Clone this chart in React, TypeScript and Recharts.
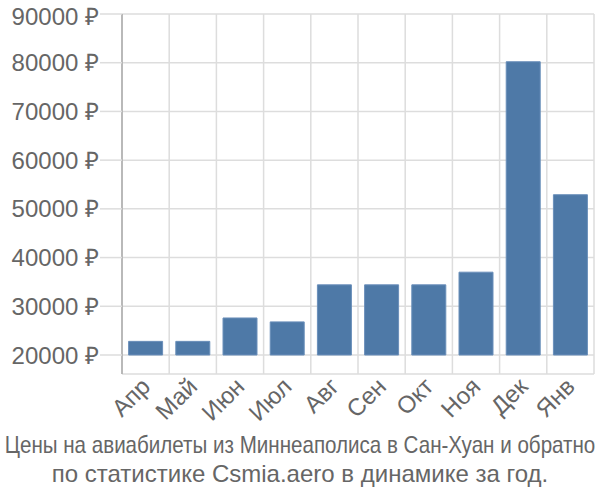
import React from "react";
import { BarChart, Bar, XAxis, YAxis, CartesianGrid } from "recharts";

const months = ["Апр", "Май", "Июн", "Июл", "Авг", "Сен", "Окт", "Ноя", "Дек", "Янв"];
const prices = [22800, 22800, 27600, 26800, 34400, 34400, 34400, 37000, 80200, 52900];
const baseValue = 20000;
const yTicks = [20000, 30000, 40000, 50000, 60000, 70000, 80000, 90000];
const titleLine1 = "Цены на авиабилеты из Миннеаполиса в Сан-Хуан и обратно";
const titleLine2 = "по статистике Csmia.aero в динамике за год.";

const data = months.map((m, i) => ({ month: m, range: [baseValue, prices[i]] }));

const FONT = "'Liberation Sans', Arial, sans-serif";

const XTick = (props: any) => {
  const { x, y, payload } = props;
  const tx = x + 6;
  const ty = y + 6;
  return (
    <text
      x={tx}
      y={ty}
      transform={`rotate(-45, ${tx}, ${ty})`}
      textAnchor="end"
      fontSize={24}
      fontFamily={FONT}
      fill="#666"
    >
      {payload.value}
    </text>
  );
};

const verticalGen = ({ offset }: any) => {
  const n = months.length;
  const w = offset.width / n;
  const out: number[] = [];
  for (let i = 0; i <= n; i++) out.push(offset.left + i * w);
  return out;
};

export default function App() {
  return (
    <div style={{ position: "absolute", left: 0, top: 0, width: 600, height: 500, background: "#fff" }}>
      <BarChart
        width={600}
        height={500}
        data={data}
        margin={{ top: 14, right: 6, left: 0, bottom: 0 }}
        barCategoryGap="14%"
      >
        <CartesianGrid stroke="#ddd" strokeWidth={1.5} verticalCoordinatesGenerator={verticalGen} />
        <XAxis
          dataKey="month"
          height={126}
          axisLine={false}
          tickLine={false}
          interval={0}
          tick={<XTick />}
        />
        <YAxis
          type="number"
          domain={[16100, 90000]}
          ticks={yTicks}
          width={122}
          tickSize={22}
          tickMargin={1}
          tickLine={{ stroke: "#ddd", strokeWidth: 1.5 }}
          axisLine={{ stroke: "#aaa", strokeWidth: 1.5 }}
          tick={{ fontSize: 24, fill: "#666", fontFamily: FONT }}
          tickFormatter={(v: number) => `${v} ₽`}
          allowDataOverflow
        />
        <Bar dataKey="range" fill="#4e79a7" stroke="#6a8fba" strokeWidth={1} isAnimationActive={false} />
      </BarChart>
      <svg width={600} height={500} style={{ position: "absolute", left: 0, top: 0, pointerEvents: "none" }}>
        <g transform="translate(300, 453) scale(0.895, 1)">
          <text x={0} y={0} textAnchor="middle" fontSize={23} fontFamily={FONT} fill="#666">
            {titleLine1}
          </text>
        </g>
        <text x={300} y={482} textAnchor="middle" fontSize={24} fontFamily={FONT} fill="#666">
          {titleLine2}
        </text>
      </svg>
    </div>
  );
}
